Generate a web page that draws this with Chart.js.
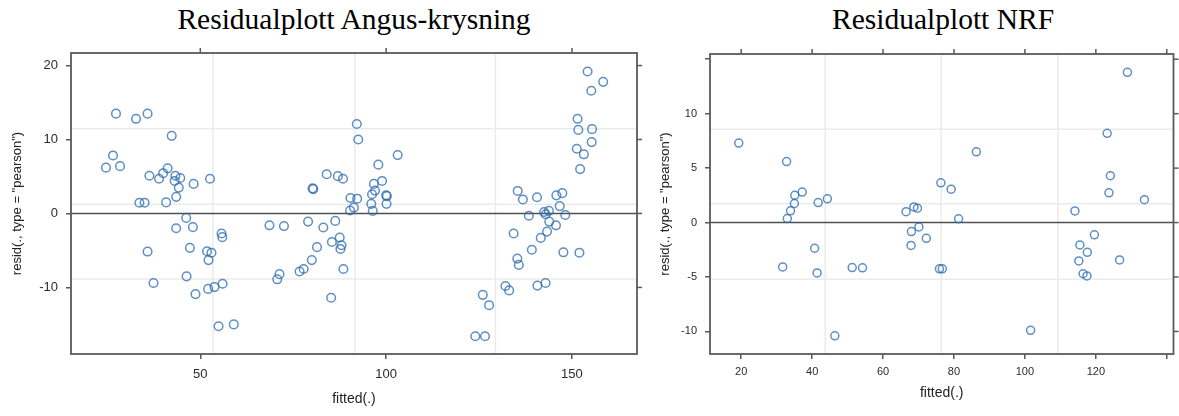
<!DOCTYPE html>
<html>
<head>
<meta charset="utf-8">
<script src="https://cdn.jsdelivr.net/npm/chart.js@4/dist/chart.umd.min.js"></script>
<style>
  body { margin: 0; background: #fff; }
  #wrap { position: relative; width: 1179px; height: 416px; overflow: hidden; }
  .title { position: absolute; top: 3px; font-family: "Liberation Serif", "DejaVu Serif", serif; font-size: 29.5px; color: #000; white-space: nowrap; transform: translateX(-50%); }
  canvas { position: absolute; top: 0; }
</style>
</head>
<body>
<div id="wrap">
  <div class="title" style="left:354px">Residualplott Angus-krysning</div>
  <div class="title" style="left:943px">Residualplott NRF</div>
  <canvas id="angus" width="650" height="416" style="left:0"></canvas>
  <canvas id="nrf" width="529" height="416" style="left:650px"></canvas>
</div>
<script>
// Angus-krysning: fitted vs pearson residuals
const fittedAngus = [27.3, 32.7, 35.8, 42.3, 26.5, 24.6, 28.4, 36.3, 38.9, 40.0, 41.2, 43.3, 43.1, 44.6, 44.2, 48.2, 52.6, 43.5, 40.8, 33.6, 35.0, 46.2, 43.5, 48.0, 55.7, 55.9, 35.8, 47.2, 51.8, 53.0, 52.2, 37.4, 46.3, 48.7, 52.1, 53.8, 56.0, 54.9, 59.0,
  68.6, 72.5, 79.0, 83.1, 86.3, 87.5, 85.4, 88.0, 87.7, 81.4, 80.0, 88.5, 77.8, 76.7, 71.3, 70.7, 85.2, 92.1, 92.5, 84.0, 87.0, 88.4, 80.2, 80.4, 90.4, 92.2, 91.3, 90.3,
  103.1, 97.9, 98.9, 96.7, 97.0, 96.2, 100.0, 100.2, 96.0, 100.1, 96.4,
  154.2, 158.4, 155.2, 151.5, 151.7, 155.4, 155.3, 151.3, 153.2, 152.2, 135.4, 136.8, 140.6, 145.8, 147.4, 146.7, 138.4, 142.5, 142.9, 143.8, 148.2, 143.9, 145.7, 143.3, 141.6, 134.3, 139.2, 135.3, 135.7, 147.7, 152.0, 132.1, 133.1, 140.7, 142.9, 126.0, 127.7, 124.0, 126.6];
const residAngus = [13.5, 12.8, 13.5, 10.5, 7.85, 6.2, 6.4, 5.1, 4.7, 5.45, 6.1, 5.1, 4.4, 4.8, 3.5, 4.0, 4.7, 2.25, 1.5, 1.45, 1.45, -0.6, -2.0, -1.85, -2.7, -3.2, -5.15, -4.65, -5.1, -5.3, -6.3, -9.4, -8.5, -10.9, -10.2, -9.95, -9.5, -15.25, -15.0,
  -1.6, -1.7, -1.1, -1.9, -1.0, -3.25, -3.85, -4.3, -4.8, -4.55, -6.3, -7.5, -7.5, -7.85, -8.2, -8.9, -11.4, 12.1, 10.0, 5.3, 5.05, 4.7, 3.4, 3.3, 2.1, 2.0, 0.8, 0.4,
  7.9, 6.6, 4.4, 4.0, 3.1, 2.6, 2.45, 2.35, 1.3, 1.3, 0.35,
  19.2, 17.8, 16.6, 12.8, 11.3, 11.4, 9.65, 8.75, 8.0, 6.0, 3.05, 1.9, 2.2, 2.45, 2.75, 1.0, -0.3, 0.2, -0.1, 0.35, -0.2, -1.1, -1.6, -2.45, -3.3, -2.7, -4.9, -6.1, -6.95, -5.25, -5.3, -9.8, -10.4, -9.75, -9.4, -11.0, -12.4, -16.6, -16.6];

// NRF: fitted vs pearson residuals
const fittedNRF = [19.3, 32.8, 37.2, 35.1, 35.0, 33.9, 33.0, 41.7, 44.3, 66.5, 68.7, 69.7, 68.0, 128.9, 123.2, 124.1, 123.7, 133.7, 114.1, 86.3, 76.3, 79.2, 81.3, 70.1, 72.2, 119.6, 31.7, 40.7, 41.4, 51.3, 54.2, 46.4, 67.9, 75.9, 76.7, 101.6, 115.5, 117.6, 115.2, 116.4, 117.5, 126.7];
const residNRF = [7.3, 5.6, 2.8, 2.5, 1.75, 1.08, 0.37, 1.84, 2.18, 1.0, 1.44, 1.32, -0.83, 13.8, 8.2, 4.3, 2.73, 2.1, 1.07, 6.5, 3.65, 3.07, 0.34, -0.4, -1.45, -1.13, -4.07, -2.36, -4.63, -4.13, -4.16, -10.4, -2.1, -4.25, -4.25, -9.9, -2.05, -2.73, -3.52, -4.7, -4.9, -3.43];

// axis ticks
const angusXTicks = [50, 100, 150];
const angusYTicks = [-10, 0, 10, 20];
const nrfXTicks = [20, 40, 60, 80, 100, 120, 140];
const nrfYTicks = [-10, -5, 0, 5, 10, 15];
const nrfHiddenLabels = [140, 15];

// light reference grid lines
const angusGridX = [53.4, 91.6, 129.4];
const angusGridY = [11.45, 1.26, -8.85];
const nrfGridX = [43.7, 76.4, 109.3];
const nrfGridY = [8.58, 1.72, -5.2];

const pointColor = 'rgba(40, 105, 175, 0.75)';
const frameColor = '#5a5a5a';

function toPoints(xs, ys) {
  return xs.map((x, i) => ({ x: x, y: ys[i] }));
}

// lattice-like panel: grid, zero line, frame, mirrored ticks
const panelPlugin = {
  id: 'panel',
  beforeDatasetsDraw(chart, args, opts) {
    const { ctx, chartArea: a, scales: { x, y } } = chart;
    ctx.save();
    ctx.strokeStyle = '#ebebeb';
    ctx.lineWidth = 1.5;
    opts.gridX.forEach(v => {
      const px = x.getPixelForValue(v);
      ctx.beginPath(); ctx.moveTo(px, a.top); ctx.lineTo(px, a.bottom); ctx.stroke();
    });
    opts.gridY.forEach(v => {
      const py = y.getPixelForValue(v);
      ctx.beginPath(); ctx.moveTo(a.left, py); ctx.lineTo(a.right, py); ctx.stroke();
    });
    // zero line
    ctx.strokeStyle = '#505050';
    ctx.lineWidth = 1.6;
    const py0 = y.getPixelForValue(0);
    ctx.beginPath(); ctx.moveTo(a.left, py0); ctx.lineTo(a.right, py0); ctx.stroke();
    // frame
    ctx.strokeStyle = frameColor;
    ctx.lineWidth = 1.8;
    ctx.strokeRect(a.left, a.top, a.right - a.left, a.bottom - a.top);
    // ticks on top and right
    ctx.lineWidth = 1.5;
    x.ticks.forEach(t => {
      const px = x.getPixelForValue(t.value);
      ctx.beginPath(); ctx.moveTo(px, a.top); ctx.lineTo(px, a.top - 5); ctx.stroke();
    });
    y.ticks.forEach(t => {
      const py = y.getPixelForValue(t.value);
      ctx.beginPath(); ctx.moveTo(a.right, py); ctx.lineTo(a.right + 5, py); ctx.stroke();
    });
    ctx.restore();
  }
};

function makeChart(id, cfg) {
  return new Chart(document.getElementById(id), {
    type: 'scatter',
    data: {
      datasets: [{
        data: toPoints(cfg.xs, cfg.ys),
        borderColor: pointColor,
        backgroundColor: 'rgba(0,0,0,0)',
        borderWidth: 1.5,
        pointRadius: cfg.radius,
        pointHoverRadius: cfg.radius
      }]
    },
    options: {
      responsive: false,
      animation: false,
      layout: { padding: { top: cfg.top, right: cfg.right, left: 0, bottom: 0 } },
      plugins: {
        legend: { display: false },
        tooltip: { enabled: false },
        panel: { gridX: cfg.gridX, gridY: cfg.gridY }
      },
      scales: {
        x: {
          type: 'linear',
          min: cfg.xmin, max: cfg.xmax,
          afterBuildTicks: s => { s.ticks = cfg.xTicks.map(v => ({ value: v })); },
          afterFit: s => { s.height = cfg.xAxisH; },
          grid: { drawOnChartArea: false, drawTicks: true, tickLength: 5, color: frameColor, lineWidth: 1.5 },
          border: { display: false },
          ticks: {
            padding: cfg.xPad,
            color: '#2b2b2b',
            font: { family: 'Liberation Sans, Arial, sans-serif', size: cfg.tickSize },
            callback: v => (nrfHiddenLabels.includes(v) && cfg.hide ? '' : v)
          },
          title: {
            display: true, text: 'fitted(.)', color: '#222',
            font: { family: 'Liberation Sans, Arial, sans-serif', size: 14 },
            padding: { top: 0, bottom: cfg.xTitlePad }
          }
        },
        y: {
          type: 'linear',
          min: cfg.ymin, max: cfg.ymax,
          afterBuildTicks: s => { s.ticks = cfg.yTicks.map(v => ({ value: v })); },
          afterFit: s => { s.width = cfg.yAxisW; },
          grid: { drawOnChartArea: false, drawTicks: true, tickLength: 5, color: frameColor, lineWidth: 1.5 },
          border: { display: false },
          ticks: {
            padding: 8,
            color: '#2b2b2b',
            font: { family: 'Liberation Sans, Arial, sans-serif', size: cfg.tickSize },
            callback: v => (nrfHiddenLabels.includes(v) && cfg.hide ? '' : v)
          },
          title: {
            display: true, text: 'resid(., type = "pearson")', color: '#222',
            font: { family: 'Liberation Sans, Arial, sans-serif', size: 13 },
            padding: { top: cfg.yTitlePad, bottom: 0 }
          }
        }
      }
    },
    plugins: [panelPlugin]
  });
}

makeChart('angus', {
  xs: fittedAngus, ys: residAngus,
  xmin: 15.2, xmax: 167.5, ymin: -19.0, ymax: 21.7,
  xTicks: angusXTicks, yTicks: angusYTicks,
  gridX: angusGridX, gridY: angusGridY,
  top: 53, right: 13, xAxisH: 62, yAxisW: 71, radius: 4.3,
  tickSize: 13, xPad: 8, xTitlePad: 8, yTitlePad: 10, hide: false
});

makeChart('nrf', {
  xs: fittedNRF, ys: residNRF,
  xmin: 11.2, xmax: 141.9, ymin: -12.07, ymax: 15.48,
  xTicks: nrfXTicks, yTicks: nrfYTicks,
  gridX: nrfGridX, gridY: nrfGridY,
  top: 54, right: 3, xAxisH: 62, yAxisW: 60, radius: 4,
  tickSize: 11, xPad: 6, xTitlePad: 14, yTitlePad: 8, hide: true
});
</script>
</body>
</html>
